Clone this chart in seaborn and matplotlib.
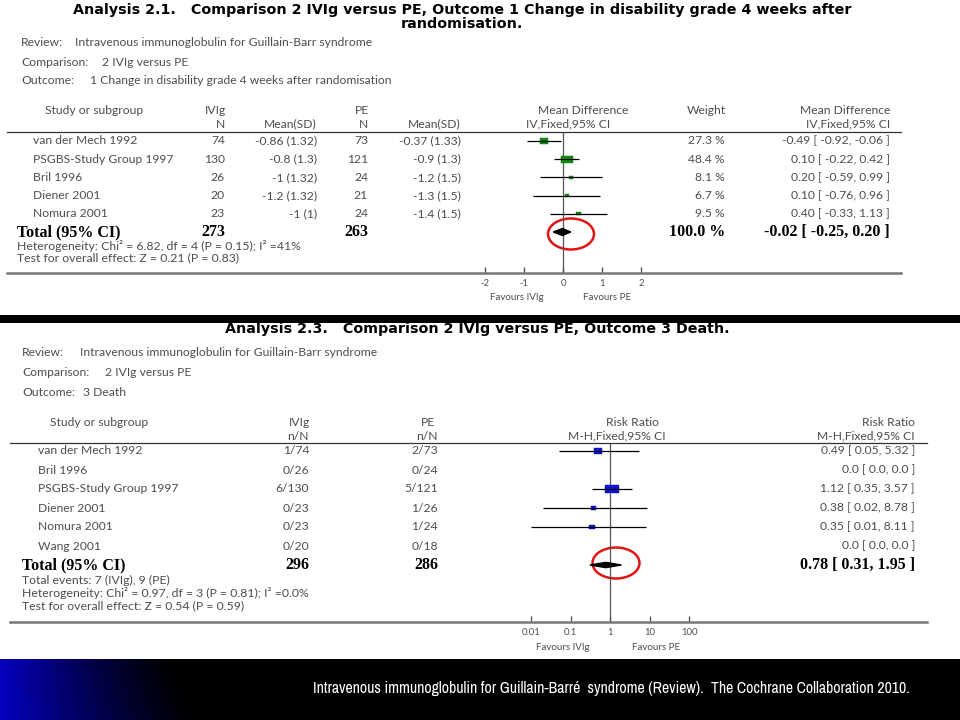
import numpy as np
import pandas as pd
import matplotlib
matplotlib.use("Agg")
import matplotlib.pyplot as plt
import seaborn as sns
from matplotlib.patches import Ellipse, Rectangle, Polygon
from matplotlib.transforms import blended_transform_factory
from matplotlib import font_manager

# ---------------- data : Analysis 2.1 (mean difference) ----------------
md_studies = ["van der Mech 1992", "PSGBS-Study Group 1997", "Bril 1996", "Diener 2001", "Nomura 2001"]
md_ivig_n = [74, 130, 26, 20, 23]
md_ivig_mean = [-0.86, -0.8, -1, -1.2, -1]
md_ivig_sd = [1.32, 1.3, 1.32, 1.32, 1]
md_pe_n = [73, 121, 24, 21, 24]
md_pe_mean = [-0.37, -0.9, -1.2, -1.3, -1.4]
md_pe_sd = [1.33, 1.3, 1.5, 1.5, 1.5]
md_weight = [27.3, 48.4, 8.1, 6.7, 9.5]
md_est = [-0.49, 0.10, 0.20, 0.10, 0.40]
md_lo = [-0.92, -0.22, -0.59, -0.76, -0.33]
md_hi = [-0.06, 0.42, 0.99, 0.96, 1.13]
md_total_n = [273, 263]
md_total_ci = [-0.02, -0.25, 0.20]
md_ticks = [-2, -1, 0, 1, 2]
md_tick_labels = ["-2", "-1", "0", "1", "2"]

# ---------------- data : Analysis 2.3 (risk ratio) ----------------
rr_studies = ["van der Mech 1992", "Bril 1996", "PSGBS-Study Group 1997", "Diener 2001", "Nomura 2001", "Wang 2001"]
rr_ivig_events = [1, 0, 6, 0, 0, 0]
rr_ivig_total = [74, 26, 130, 23, 23, 20]
rr_pe_events = [2, 0, 5, 1, 1, 0]
rr_pe_total = [73, 24, 121, 26, 24, 18]
rr_est = [0.49, np.nan, 1.12, 0.38, 0.35, np.nan]
rr_lo = [0.05, np.nan, 0.35, 0.02, 0.01, np.nan]
rr_hi = [5.32, np.nan, 3.57, 8.78, 8.11, np.nan]
rr_weight = [22.1, 0, 56.8, 10.3, 10.7, 0]   # estimated from square sizes
rr_total_n = [296, 286]
rr_total_ci = [0.78, 0.31, 1.95]
rr_ticks = [0.01, 0.1, 1, 10, 100]
rr_tick_labels = ["0.01", "0.1", "1", "10", "100"]

# ---------------- style ----------------
sns.set_style("white")
plt.rcParams["font.family"] = ["Lato", "DejaVu Sans"]
GRAY = "#4d4d4d"
FS = 8.7          # body text
SERIF = ["Liberation Serif", "DejaVu Serif"]
TITLE = ["DejaVu Sans"]
avail = sorted({f.name for f in font_manager.fontManager.ttflist})
narrow = [n for n in avail if ("Narrow" in n or "Condensed" in n)]
if narrow:
    FOOT, FOOT_FS = narrow[0], 11.4
else:
    FOOT, FOOT_FS = "Liberation Sans", 9.4

W, H = 960, 720
fig = plt.figure(figsize=(9.6, 7.2), dpi=100, facecolor="white")
ov = fig.add_axes([0, 0, 1, 1])
ov.set_xlim(0, W)
ov.set_ylim(H, 0)
ov.axis("off")

# black separator band and footer bar
ov.add_patch(Rectangle((0, 315), W, 8, color="black", lw=0))
ov.add_patch(Rectangle((0, 659), W, H - 659, color="black", lw=0))
gx = np.linspace(0, 1, 480)
gy = np.linspace(0, 1, 60)[:, None]
blue = np.clip(1 - gx[None, :] / (0.36 + 0.06 * gy), 0, 1) ** 1.3
img = np.zeros((60, 480, 3))
img[..., 2] = 0.75 * blue
img[..., 0] = 0.02 * blue
ov.imshow(img, extent=(0, 480, H, 659), aspect="auto", interpolation="bilinear", zorder=1)
ov.text(611, 689, "Intravenous immunoglobulin for Guillain-Barré  syndrome (Review).  The Cochrane Collaboration 2010.",
        color="white", fontsize=FOOT_FS, family=[FOOT, "DejaVu Sans"], ha="center", va="center", zorder=3)


def add_forest(px_l, px_r, px_t, px_b):
    return fig.add_axes([px_l / W, 1 - px_b / H, (px_r - px_l) / W, (px_b - px_t) / H], facecolor="none")


def style_forest(ax, ticks, labels):
    for s in ["left", "right"]:
        ax.spines[s].set_visible(False)
    ax.spines["top"].set_color("#333333")
    ax.spines["top"].set_linewidth(0.9)
    ax.spines["bottom"].set_color("#777777")
    ax.spines["bottom"].set_linewidth(1.8)
    ax.set_yticks([])
    ax.set_xticks(ticks)
    ax.set_xticklabels(labels)
    ax.xaxis.set_minor_locator(matplotlib.ticker.NullLocator())
    ax.tick_params(axis="x", direction="in", length=4, width=1, color="#555555",
                   labelsize=6.8, labelcolor=GRAY, pad=4, bottom=True)
    ax.set_xlabel("")
    ax.set_ylabel("")


rect_marker = [(-1.6, -1), (1.6, -1), (1.6, 1), (-1.6, 1), (-1.6, -1)]

# ======================= panel 1 =======================
ov.text(462, 14, "Analysis 2.1.   Comparison 2 IVIg versus PE, Outcome 1 Change in disability grade 4 weeks after",
        fontsize=10.3, fontweight="bold", family=TITLE, ha="center", va="baseline", color="black")
ov.text(462, 28, "randomisation.", fontsize=10.3, fontweight="bold", family=TITLE,
        ha="center", va="baseline", color="black")
for y, lab, x2, val in [(43, "Review:", 75, "Intravenous immunoglobulin for Guillain-Barr syndrome"),
                        (63, "Comparison:", 102, "2 IVIg versus PE"),
                        (81, "Outcome:", 90, "1 Change in disability grade 4 weeks after randomisation")]:
    ov.text(21, y, lab, fontsize=FS, color=GRAY, va="center")
    ov.text(x2, y, val, fontsize=FS, color=GRAY, va="center")

ov.text(45, 111, "Study or subgroup", fontsize=FS, color=GRAY, va="center")
ov.text(215, 111, "IVIg", fontsize=FS, color=GRAY, va="center", ha="center")
ov.text(362, 111, "PE", fontsize=FS, color=GRAY, va="center", ha="center")
ov.text(583, 111, "Mean Difference", fontsize=FS, color=GRAY, va="center", ha="center")
ov.text(726, 111, "Weight", fontsize=FS, color=GRAY, va="center", ha="right")
ov.text(890, 111, "Mean Difference", fontsize=FS, color=GRAY, va="center", ha="right")
ov.text(225, 124, "N", fontsize=FS, color=GRAY, va="center", ha="right")
ov.text(317, 124, "Mean(SD)", fontsize=FS, color=GRAY, va="center", ha="right")
ov.text(368, 124, "N", fontsize=FS, color=GRAY, va="center", ha="right")
ov.text(461, 124, "Mean(SD)", fontsize=FS, color=GRAY, va="center", ha="right")
ov.text(568, 124, "IV,Fixed,95% CI", fontsize=FS, color=GRAY, va="center", ha="center")
ov.text(890, 124, "IV,Fixed,95% CI", fontsize=FS, color=GRAY, va="center", ha="right")

ax1 = add_forest(7, 901, 132, 273)
zero_px, ppu = 563, 39.0
ax1.set_xlim((7 - zero_px) / ppu, (901 - zero_px) / ppu)
pitch1, row0 = 18.2, 141
ax1.set_ylim((273 - row0) / pitch1, (132 - row0) / pitch1)

df1 = pd.DataFrame({"study": md_studies, "est": md_est, "lo": md_lo, "hi": md_hi,
                    "weight": md_weight, "row": np.arange(len(md_studies))})
k1 = 1.35
sns.scatterplot(data=df1, x="est", y="row", size="weight",
                sizes=(min(md_weight) * k1, max(md_weight) * k1),
                marker=rect_marker, color="#128a12", edgecolor="#0c6a0c", linewidth=0.3,
                legend=False, ax=ax1, zorder=2)
ax1.hlines(df1["row"], df1["lo"], df1["hi"], color="black", lw=0.9, zorder=3)
ax1.axvline(0, color="#555555", lw=0.9, zorder=1)
trow = len(md_studies)
e, lo, hi = md_total_ci
ax1.add_patch(Polygon([(lo, trow), (e, trow - 0.19), (hi, trow), (e, trow + 0.19)],
                      closed=True, color="black", zorder=3))
style_forest(ax1, md_ticks, md_tick_labels)

tr1 = blended_transform_factory(ov.transData, ax1.transData)
for i in range(len(md_studies)):
    kw = dict(fontsize=FS, color=GRAY, va="center", transform=tr1)
    ov.text(33, i, md_studies[i], **kw)
    ov.text(225, i, f"{md_ivig_n[i]}", ha="right", **kw)
    ov.text(317, i, f"{md_ivig_mean[i]:g} ({md_ivig_sd[i]:g})", ha="right", **kw)
    ov.text(368, i, f"{md_pe_n[i]}", ha="right", **kw)
    ov.text(461, i, f"{md_pe_mean[i]:g} ({md_pe_sd[i]:g})", ha="right", **kw)
    ov.text(725, i, f"{md_weight[i]:.1f} %", ha="right", **kw)
    ov.text(890, i, f"{md_est[i]:.2f} [ {md_lo[i]:.2f}, {md_hi[i]:.2f} ]", ha="right", **kw)
kwb = dict(fontsize=11.5, color="black", va="center", transform=tr1, family=SERIF, fontweight="bold")
ov.text(17, trow, "Total (95% CI)", **kwb)
ov.text(225, trow, f"{md_total_n[0]}", ha="right", **kwb)
ov.text(368, trow, f"{md_total_n[1]}", ha="right", **kwb)
ov.text(725, trow, f"{sum(md_weight):.1f} %", ha="right", **kwb)
ov.text(890, trow, f"{e:.2f} [ {lo:.2f}, {hi:.2f} ]", ha="right", **kwb)
ov.text(17, 246, "Heterogeneity: Chi² = 6.82, df = 4 (P = 0.15); I² =41%", fontsize=8.8, color=GRAY, va="center")
ov.text(17, 258, "Test for overall effect: Z = 0.21 (P = 0.83)", fontsize=8.8, color=GRAY, va="center")
ov.text(517, 298, "Favours IVIg", fontsize=7, color=GRAY, va="center", ha="center")
ov.text(607, 298, "Favours PE", fontsize=7, color=GRAY, va="center", ha="center")
ov.add_patch(Ellipse((571, 234), 46, 31, fill=False, ec="#e01414", lw=1.8, zorder=5))

# ======================= panel 2 =======================
ov.text(477, 333, "Analysis 2.3.   Comparison 2 IVIg versus PE, Outcome 3 Death.",
        fontsize=10.3, fontweight="bold", family=TITLE, ha="center", va="baseline", color="black")
for y, lab, x2, val in [(353, "Review:", 80, "Intravenous immunoglobulin for Guillain-Barr syndrome"),
                        (373, "Comparison:", 105, "2 IVIg versus PE"),
                        (392, "Outcome:", 83, "3 Death")]:
    ov.text(22, y, lab, fontsize=FS, color=GRAY, va="center")
    ov.text(x2, y, val, fontsize=FS, color=GRAY, va="center")

ov.text(50, 422, "Study or subgroup", fontsize=FS, color=GRAY, va="center")
ov.text(299, 422, "IVIg", fontsize=FS, color=GRAY, va="center", ha="center")
ov.text(428, 422, "PE", fontsize=FS, color=GRAY, va="center", ha="center")
ov.text(632, 422, "Risk Ratio", fontsize=FS, color=GRAY, va="center", ha="center")
ov.text(915, 422, "Risk Ratio", fontsize=FS, color=GRAY, va="center", ha="right")
ov.text(309, 436, "n/N", fontsize=FS, color=GRAY, va="center", ha="right")
ov.text(438, 436, "n/N", fontsize=FS, color=GRAY, va="center", ha="right")
ov.text(617, 436, "M-H,Fixed,95% CI", fontsize=FS, color=GRAY, va="center", ha="center")
ov.text(915, 436, "M-H,Fixed,95% CI", fontsize=FS, color=GRAY, va="center", ha="right")

ax2 = add_forest(10, 927, 443, 622)
one_px, ppd = 610, 39.5
ax2.set_xscale("log")
ax2.set_xlim(10 ** ((10 - one_px) / ppd), 10 ** ((927 - one_px) / ppd))
pitch2, row0b = 19.0, 451
ax2.set_ylim((622 - row0b) / pitch2, (443 - row0b) / pitch2)

df2 = pd.DataFrame({"study": rr_studies, "est": rr_est, "lo": rr_lo, "hi": rr_hi,
                    "weight": rr_weight, "row": np.arange(len(rr_studies))})
d2 = df2.dropna()
k2 = 1.6
sns.scatterplot(data=d2, x="est", y="row", size="weight",
                sizes=(d2["weight"].min() * k2, d2["weight"].max() * k2),
                marker=rect_marker, color="#0a14d2", edgecolor="#0a0a9a", linewidth=0.3,
                legend=False, ax=ax2, zorder=2)
ax2.hlines(d2["row"], d2["lo"], d2["hi"], color="black", lw=0.9, zorder=3)
ax2.axvline(1, color="#555555", lw=0.9, zorder=1)
trow2 = len(rr_studies)
e2, lo2, hi2 = rr_total_ci
ax2.add_patch(Polygon([(lo2, trow2), (e2, trow2 - 0.14), (hi2, trow2), (e2, trow2 + 0.14)],
                      closed=True, color="black", zorder=3))
style_forest(ax2, rr_ticks, rr_tick_labels)

tr2 = blended_transform_factory(ov.transData, ax2.transData)
for i in range(len(rr_studies)):
    kw = dict(fontsize=FS, color=GRAY, va="center", transform=tr2)
    ov.text(38, i, rr_studies[i], **kw)
    ov.text(309, i, f"{rr_ivig_events[i]}/{rr_ivig_total[i]}", ha="right", **kw)
    ov.text(438, i, f"{rr_pe_events[i]}/{rr_pe_total[i]}", ha="right", **kw)
    if np.isnan(rr_est[i]):
        s = "0.0 [ 0.0, 0.0 ]"
    else:
        s = f"{rr_est[i]:.2f} [ {rr_lo[i]:.2f}, {rr_hi[i]:.2f} ]"
    ov.text(915, i, s, ha="right", **kw)
kwb2 = dict(kwb)
kwb2["transform"] = tr2
ov.text(22, trow2, "Total (95% CI)", **kwb2)
ov.text(309, trow2, f"{rr_total_n[0]}", ha="right", **kwb2)
ov.text(438, trow2, f"{rr_total_n[1]}", ha="right", **kwb2)
ov.text(915, trow2, f"{e2:.2f} [ {lo2:.2f}, {hi2:.2f} ]", ha="right", **kwb2)
ov.text(22, 580, f"Total events: {sum(rr_ivig_events)} (IVIg), {sum(rr_pe_events)} (PE)", fontsize=8.8, color=GRAY, va="center")
ov.text(22, 593, "Heterogeneity: Chi² = 0.97, df = 3 (P = 0.81); I² =0.0%", fontsize=8.8, color=GRAY, va="center")
ov.text(22, 606, "Test for overall effect: Z = 0.54 (P = 0.59)", fontsize=8.8, color=GRAY, va="center")
ov.text(563, 648, "Favours IVIg", fontsize=7, color=GRAY, va="center", ha="center")
ov.text(656, 648, "Favours PE", fontsize=7, color=GRAY, va="center", ha="center")
ov.add_patch(Ellipse((616, 563), 47, 31, fill=False, ec="#e01414", lw=1.8, zorder=5))

fig.savefig("out.png", dpi=100, facecolor="white")
